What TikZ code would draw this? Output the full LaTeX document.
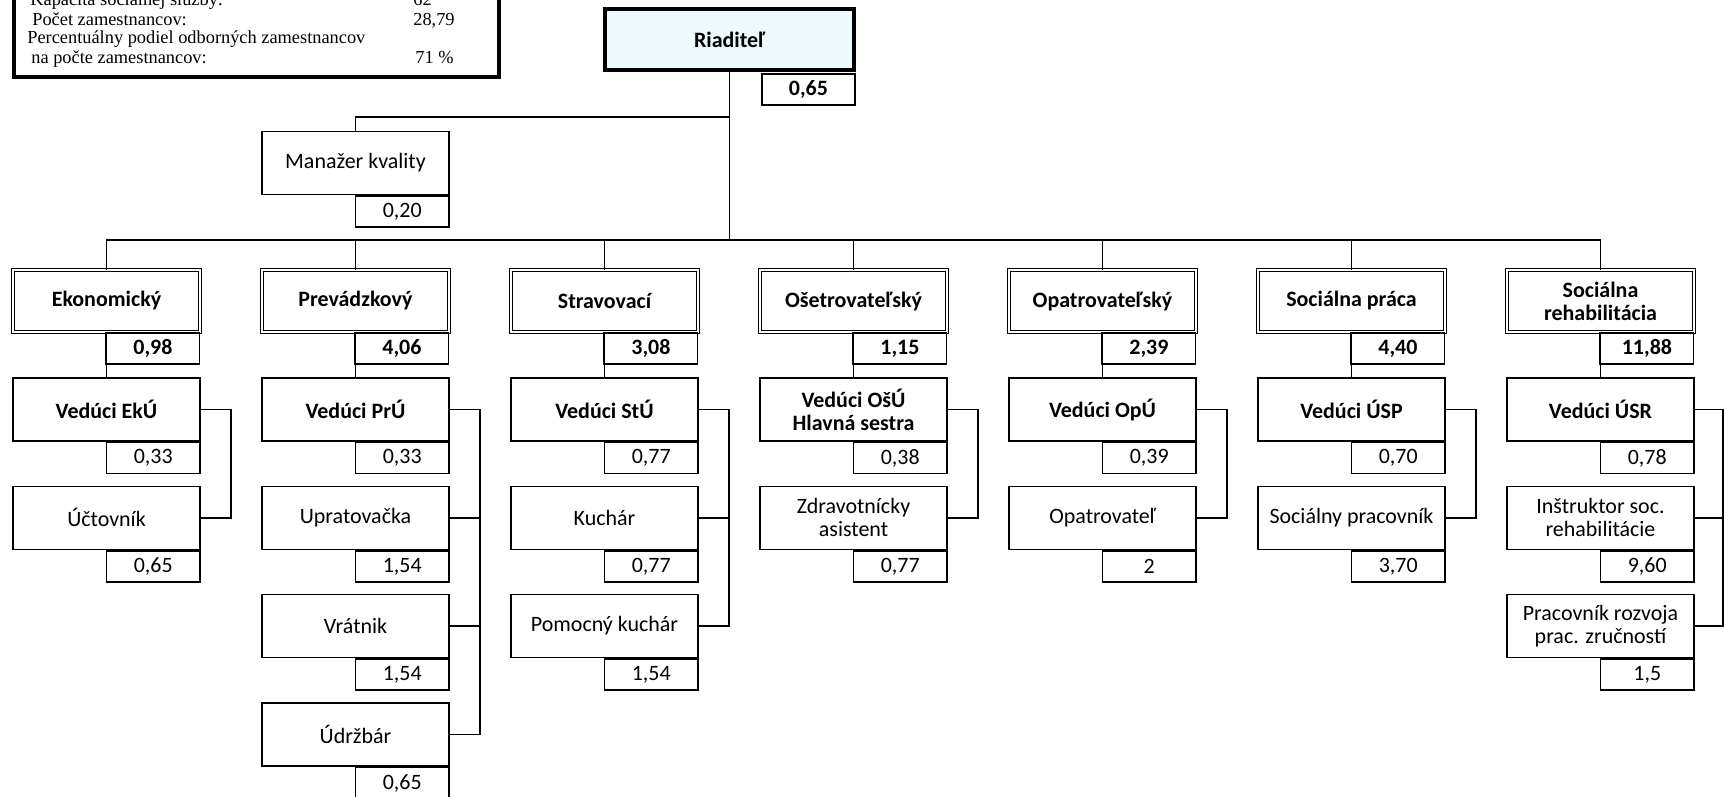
\documentclass[tikz,border=0pt]{standalone}
\usepackage{fontspec}
\setmainfont{Carlito}
\newfontfamily\infofont{Liberation Serif}
\definecolor{riadfill}{RGB}{238,250,252}
\begin{document}
\begin{tikzpicture}[x=0.02cm,y=-0.02cm,
    every node/.style={font=\fontsize{12.5}{13.2}\selectfont},
    link/.style={line width=0.9pt},
    unit/.style={draw,line width=0.9pt,inner sep=0pt,minimum width=3.74cm,minimum height=1.26cm,align=center},
    head/.style={unit,font=\fontsize{12.5}{13.2}\selectfont\bfseries},
    dept/.style={head,double,line width=0.55pt,double distance=1.2pt,minimum height=1.24cm},
    val/.style={draw,line width=0.9pt,inner sep=0pt,minimum width=1.87cm,minimum height=0.62cm,anchor=north east},
    deptval/.style={val,font=\fontsize{12.5}{13.2}\selectfont\bfseries},
    info/.style={anchor=base west,inner sep=0pt,font=\infofont\fontsize{10.45}{12}\selectfont}]
  \useasboundingbox (0,0) rectangle (1724,796);
  % info box (top cut off)
  \draw[line width=2pt] (14,-20) rectangle (499,77);
  \node[info] (kap) at (30,5) {Kapacita sociálnej služby:};
  \node[info] (kapv) at (413,5) {62};
  \node[info] (poc) at (32,25) {Počet zamestnancov:};
  \node[info] (pocv) at (413,25) {28,79};
  \node[info] (perc) at (27,43) {Percentuálny podiel odborných zamestnancov};
  \node[info] (perc2) at (31,63) {na počte zamestnancov:};
  \node[info] (percv) at (415,63) {71 \%};
  % director
  \node[head,fill=riadfill,line width=2.3pt,minimum width=4.98cm,minimum height=1.22cm] (riad) at (729.5,39.5) {Riaditeľ};
  \node[deptval] (riadv) at ([yshift=-0.6pt]riad.south east) {0,65};
  \coordinate (mkj) at (729.5,117);
  \coordinate (bus) at (729.5,240);
  \node[unit] (mk) at (355.5,163) {Manažer kvality};
  \node[val] (mkv) at (mk.south east) {0,20};
  \draw[link] (riad) -- (bus);
  \draw[link] (mkj) -| (mk.north);
  % Ekonomický
  \node[dept] (ek) at (106.5,301) {Ekonomický};
  \node[deptval] (ekv) at (ek.south east) {0,98};
  \node[head] (ek1) at (106.5,409.5) {Vedúci EkÚ};
  \node[val] (ek1v) at (ek1.south east) {0,33};
  \node[unit] (ek2) at (106.5,517.8) {Účtovník};
  \node[val] (ek2v) at (ek2.south east) {0,65};
  % Prevádzkový
  \node[dept] (pr) at (355.5,301) {Prevádzkový};
  \node[deptval] (prv) at (pr.south east) {4,06};
  \node[head] (pr1) at (355.5,409.5) {Vedúci PrÚ};
  \node[val] (pr1v) at (pr1.south east) {0,33};
  \node[unit] (pr2) at (355.5,517.8) {Upratovačka};
  \node[val] (pr2v) at (pr2.south east) {1,54};
  \node[unit] (pr3) at (355.5,626.1) {Vrátnik};
  \node[val] (pr3v) at (pr3.south east) {1,54};
  \node[unit] (pr4) at (355.5,734.4) {Údržbár};
  \node[val] (pr4v) at (pr4.south east) {0,65};
  % Stravovací
  \node[dept] (st) at (604.5,301) {Stravovací};
  \node[deptval] (stv) at (st.south east) {3,08};
  \node[head] (st1) at (604.5,409.5) {Vedúci StÚ};
  \node[val] (st1v) at (st1.south east) {0,77};
  \node[unit] (st2) at (604.5,517.8) {Kuchár};
  \node[val] (st2v) at (st2.south east) {0,77};
  \node[unit] (st3) at (604.5,626.1) {Pomocný kuchár};
  \node[val] (st3v) at (st3.south east) {1,54};
  % Ošetrovateľský
  \node[dept] (os) at (853.5,301) {Ošetrovateľský};
  \node[deptval] (osv) at (os.south east) {1,15};
  \node[head] (os1) at (853.5,409.5) {Vedúci OšÚ\\Hlavná sestra};
  \node[val] (os1v) at (os1.south east) {0,38};
  \node[unit] (os2) at (853.5,517.8) {Zdravotnícky\\asistent};
  \node[val] (os2v) at (os2.south east) {0,77};
  % Opatrovateľský
  \node[dept] (op) at (1102.5,301) {Opatrovateľský};
  \node[deptval] (opv) at (op.south east) {2,39};
  \node[head] (op1) at (1102.5,409.5) {Vedúci OpÚ};
  \node[val] (op1v) at (op1.south east) {0,39};
  \node[unit] (op2) at (1102.5,517.8) {Opatrovateľ};
  \node[val] (op2v) at (op2.south east) {2};
  % Sociálna práca
  \node[dept] (sp) at (1351.5,301) {Sociálna práca};
  \node[deptval] (spv) at (sp.south east) {4,40};
  \node[head] (sp1) at (1351.5,409.5) {Vedúci ÚSP};
  \node[val] (sp1v) at (sp1.south east) {0,70};
  \node[unit] (sp2) at (1351.5,517.8) {Sociálny pracovník};
  \node[val] (sp2v) at (sp2.south east) {3,70};
  % Sociálna rehabilitácia
  \node[dept] (sr) at (1600.5,301) {Sociálna\\rehabilitácia};
  \node[deptval] (srv) at (sr.south east) {11,88};
  \node[head] (sr1) at (1600.5,409.5) {Vedúci ÚSR};
  \node[val] (sr1v) at (sr1.south east) {0,78};
  \node[unit] (sr2) at (1600.5,517.8) {Inštruktor soc.\\rehabilitácie};
  \node[val] (sr2v) at (sr2.south east) {9,60};
  \node[unit] (sr3) at (1600.5,626.1) {Pracovník rozvoja\\prac. zručností};
  \node[val] (sr3v) at (sr3.south east) {1,5};
  % bus to departments
  \draw[link] (bus) -| (ek.north);
  \draw[link] (bus) -| (pr.north);
  \draw[link] (bus) -| (st.north);
  \draw[link] (bus) -| (os.north);
  \draw[link] (bus) -| (op.north);
  \draw[link] (bus) -| (sp.north);
  \draw[link] (bus) -| (sr.north);
  % department -- head
  \draw[link] (ek.south) -- (ek1.north);
  \draw[link] (pr.south) -- (pr1.north);
  \draw[link] (st.south) -- (st1.north);
  \draw[link] (os.south) -- (os1.north);
  \draw[link] (op.south) -- (op1.north);
  \draw[link] (sp.south) -- (sp1.north);
  \draw[link] (sr.south) -- (sr1.north);
  % head -- staff brackets
  \draw[link] (ek1.east) -- ++(30,0) |- (ek2.east);
  \draw[link] (pr1.east) -- ++(30,0) |- (pr4.east);
  \draw[link] (pr2.east) -- ++(30,0);
  \draw[link] (pr3.east) -- ++(30,0);
  \draw[link] (st1.east) -- ++(30,0) |- (st3.east);
  \draw[link] (st2.east) -- ++(30,0);
  \draw[link] (os1.east) -- ++(30,0) |- (os2.east);
  \draw[link] (op1.east) -- ++(30,0) |- (op2.east);
  \draw[link] (sp1.east) -- ++(30,0) |- (sp2.east);
  \draw[link] (sr1.east) -- ++(28,0) |- (sr3.east);
  \draw[link] (sr2.east) -- ++(28,0);
\end{tikzpicture}
\end{document}
